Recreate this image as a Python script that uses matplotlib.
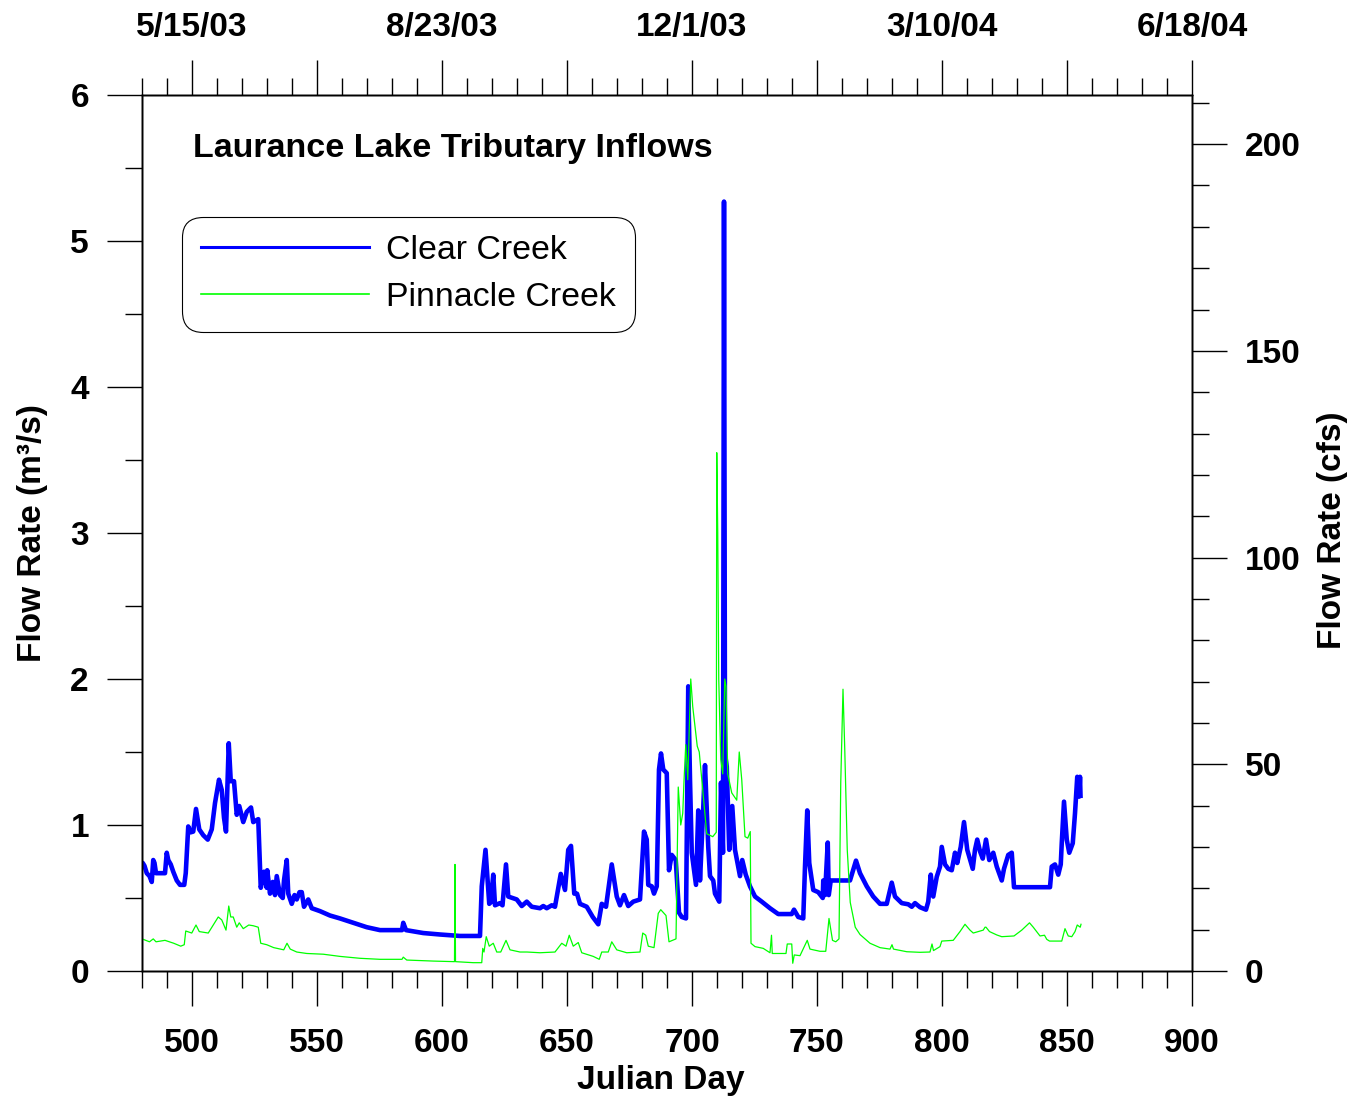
import matplotlib
matplotlib.use('Agg')
import matplotlib.pyplot as plt
from matplotlib.lines import Line2D
from matplotlib.ticker import MultipleLocator, FixedLocator
import numpy as np

plt.rcParams['font.family'] = ['Liberation Sans', 'DejaVu Sans']
plt.rcParams['font.weight'] = 'bold'

# ---------------- data ----------------
clear_day = [480.0, 480.3, 481.0, 481.9, 483.0, 483.9, 484.5, 485.0, 485.6, 487.0, 489.2, 489.9, 490.5,
             491.5, 492.5, 493.9, 495.2, 496.9, 497.5, 498.5, 499.5, 500.5, 501.6, 502.9, 504.5, 506.3,
             507.9, 509.2, 510.8, 511.9, 512.8, 513.6, 514.7, 515.5, 516.8, 517.9, 518.9, 520.5, 521.9,
             523.6, 524.5, 526.5, 527.5, 528.2, 528.8, 529.9, 530.1, 531.2, 532.3, 533.2, 533.9, 535.2,
             536.3, 536.8, 537.9, 538.5, 539.9, 541.0, 541.9, 543.0, 543.9, 544.8, 546.5, 547.9, 551.2,
             555.2, 559.2, 564.5, 569.9, 575.2, 580.5, 584.0, 584.5, 585.6, 592.5, 599.2, 607.2, 615.2,
             615.9, 617.4, 618.9, 619.5, 620.5, 621.2, 623.2, 624.2, 625.6, 626.5, 629.9, 631.9, 633.9,
             635.9, 639.2, 640.5, 641.9, 643.9, 645.2, 647.5, 649.2, 650.5, 651.6, 652.9, 654.0, 655.2,
             657.9, 660.3, 662.5, 663.9, 665.6, 667.9, 669.9, 671.2, 672.8, 674.5, 676.5, 679.2, 680.8,
             681.9, 682.5, 683.9, 684.8, 685.9, 686.8, 687.6, 688.5, 689.9, 690.8, 691.9, 693.5, 694.8,
             695.9, 697.6, 698.5, 699.2, 699.9, 701.6, 702.5, 703.2, 704.3, 705.2, 706.5, 707.2, 708.5,
             709.2, 710.9, 711.6, 712.4, 712.8, 713.2, 713.9, 714.9, 716.1, 717.2, 719.2, 720.1, 721.5,
             723.2, 725.2, 727.9, 730.5, 731.2, 734.5, 739.9, 740.8, 742.5, 744.5, 745.2, 746.1, 746.9,
             748.5, 750.5, 752.3, 752.5, 753.2, 754.3, 754.7, 755.5, 763.2, 765.6, 767.2, 769.9, 772.5,
             775.2, 777.9, 779.9, 781.2, 783.9, 786.5, 787.9, 789.2, 791.2, 793.6, 794.5, 795.5, 796.5,
             797.9, 799.2, 799.9, 801.2, 802.5, 803.9, 805.2, 806.1, 807.5, 808.8, 810.1, 812.3, 813.2,
             814.1, 815.2, 816.3, 817.6, 818.9, 820.5, 821.9, 823.9, 824.8, 826.5, 827.9, 828.8, 843.2,
             843.9, 845.2, 846.5, 847.5, 847.9, 848.8, 849.9, 850.9, 852.3, 853.2, 854.1, 854.9, 855.2,
             855.4]
clear_flow = [0.74, 0.74, 0.72, 0.67, 0.65, 0.61, 0.76, 0.74, 0.67, 0.67, 0.67, 0.81, 0.76,
              0.73, 0.68, 0.62, 0.59, 0.59, 0.67, 0.99, 0.95, 0.955, 1.11, 0.97, 0.93, 0.90,
              0.97, 1.15, 1.31, 1.24, 1.05, 0.955, 1.56, 1.30, 1.30, 1.07, 1.13, 1.02, 1.09,
              1.12, 1.02, 1.04, 0.57, 0.62, 0.68, 0.57, 0.69, 0.53, 0.61, 0.52, 0.65, 0.52,
              0.50, 0.62, 0.76, 0.53, 0.46, 0.52, 0.49, 0.54, 0.54, 0.44, 0.49, 0.43, 0.41,
              0.38, 0.36, 0.33, 0.30, 0.28, 0.28, 0.28, 0.33, 0.28, 0.26, 0.25, 0.24, 0.24,
              0.58, 0.83, 0.46, 0.47, 0.66, 0.45, 0.465, 0.45, 0.73, 0.51, 0.49, 0.445, 0.475,
              0.44, 0.43, 0.445, 0.43, 0.45, 0.44, 0.665, 0.555, 0.83, 0.857, 0.53, 0.53, 0.46,
              0.44, 0.37, 0.32, 0.46, 0.44, 0.73, 0.51, 0.45, 0.52, 0.445, 0.475, 0.49, 0.955,
              0.90, 0.59, 0.58, 0.53, 0.58, 1.38, 1.49, 1.38, 1.355, 0.69, 0.795, 0.76, 0.40,
              0.37, 0.36, 1.95, 1.31, 0.81, 0.59, 1.10, 0.62, 1.035, 1.41, 0.85, 0.65, 0.62,
              0.53, 0.475, 1.29, 0.81, 5.27, 1.49, 1.40, 0.83, 1.13, 0.83, 0.65, 0.76, 0.66,
              0.58, 0.51, 0.475, 0.44, 0.43, 0.39, 0.39, 0.42, 0.37, 0.36, 0.715, 1.10, 0.74,
              0.555, 0.54, 0.50, 0.62, 0.52, 0.88, 0.52, 0.62, 0.62, 0.756, 0.67, 0.58, 0.51,
              0.46, 0.46, 0.605, 0.51, 0.465, 0.457, 0.44, 0.465, 0.437, 0.42, 0.475, 0.66, 0.51,
              0.645, 0.715, 0.85, 0.73, 0.70, 0.69, 0.81, 0.74, 0.85, 1.02, 0.83, 0.70, 0.83,
              0.90, 0.82, 0.77, 0.90, 0.76, 0.81, 0.715, 0.62, 0.70, 0.795, 0.81, 0.574, 0.574,
              0.715, 0.73, 0.66, 0.73, 0.875, 1.16, 0.90, 0.81, 0.875, 1.08, 1.33, 1.195, 1.33,
              1.20]

pinn_day = [480.0, 481.5, 483.0, 484.5, 485.6, 489.2, 492.7, 495.5, 496.9, 497.5, 499.9, 501.6, 502.9,
            506.5, 508.5, 510.5, 511.9, 513.6, 514.7, 515.5, 516.5, 517.9, 518.9, 520.5, 522.7, 524.5,
            526.5, 527.5, 529.9, 532.7, 536.7, 538.0, 539.3, 541.9, 545.9, 552.5, 559.2, 567.2, 575.2,
            584.0, 584.5, 585.9, 596.5, 605.0, 605.2, 605.4, 612.5, 615.9, 616.3, 616.8, 617.7, 618.9,
            620.5, 621.9, 623.5, 625.6, 627.2, 631.2, 634.0, 639.2, 645.2, 647.9, 649.6, 650.9, 652.5,
            654.5, 655.9, 660.5, 662.9, 663.9, 666.5, 667.9, 669.9, 673.9, 679.2, 680.3, 681.5, 682.5,
            684.8, 686.5, 687.5, 689.6, 690.8, 693.6, 694.5, 695.5, 696.3, 696.8, 697.5, 698.3, 699.5,
            700.3, 700.9, 702.1, 702.9, 704.3, 705.9, 708.3, 709.7, 709.9, 710.3, 710.7, 711.5, 712.3,
            713.1, 713.6, 714.3, 715.9, 717.9, 718.9, 719.9, 721.2, 722.3, 723.3, 723.6, 725.2, 728.5,
            731.2, 731.8, 732.1, 737.6, 738.1, 739.9, 740.3, 740.9, 743.2, 746.1, 747.2, 751.2, 753.5,
            754.8, 756.2, 757.5, 758.8, 759.5, 760.4, 761.1, 762.1, 763.3, 765.3, 767.2, 771.2, 775.2,
            779.2, 780.0, 780.6, 785.9, 791.2, 795.2, 796.0, 796.6, 799.2, 799.9, 804.5, 807.2, 809.2,
            811.2, 812.5, 816.5, 817.2, 817.6, 819.0, 821.9, 823.9, 828.8, 831.9, 835.0, 836.5, 839.2,
            841.0, 841.9, 843.0, 847.9, 849.2, 850.5, 851.9, 853.2, 854.1, 855.3, 855.6]
pinn_flow = [0.22, 0.21, 0.20, 0.22, 0.20, 0.21, 0.19, 0.17, 0.18, 0.274, 0.26, 0.315, 0.27,
             0.26, 0.315, 0.37, 0.35, 0.28, 0.445, 0.37, 0.37, 0.30, 0.33, 0.29, 0.315, 0.31,
             0.30, 0.19, 0.18, 0.16, 0.145, 0.19, 0.15, 0.13, 0.12, 0.115, 0.10, 0.087, 0.08,
             0.08, 0.095, 0.075, 0.068, 0.064, 0.73, 0.064, 0.057, 0.057, 0.155, 0.13, 0.235, 0.17,
             0.19, 0.13, 0.13, 0.21, 0.145, 0.13, 0.13, 0.125, 0.13, 0.19, 0.17, 0.245, 0.17,
             0.195, 0.125, 0.10, 0.08, 0.13, 0.13, 0.20, 0.145, 0.125, 0.13, 0.26, 0.245, 0.17,
             0.16, 0.395, 0.42, 0.38, 0.20, 0.22, 1.26, 1.00, 1.08, 1.30, 1.55, 1.31, 2.00,
             1.81, 1.72, 1.54, 1.50, 1.24, 0.94, 0.92, 0.95, 3.55, 3.0, 2.0, 1.45, 1.35,
             2.0, 1.95, 1.35, 1.22, 1.17, 1.50, 1.31, 0.92, 0.91, 0.955, 0.19, 0.167, 0.155,
             0.125, 0.245, 0.12, 0.12, 0.185, 0.185, 0.053, 0.11, 0.105, 0.21, 0.15, 0.135, 0.135,
             0.36, 0.21, 0.20, 0.22, 1.29, 1.93, 1.52, 0.83, 0.47, 0.30, 0.25, 0.19, 0.16,
             0.15, 0.18, 0.15, 0.132, 0.128, 0.13, 0.185, 0.14, 0.167, 0.205, 0.21, 0.27, 0.32,
             0.28, 0.26, 0.28, 0.30, 0.30, 0.27, 0.247, 0.235, 0.24, 0.28, 0.33, 0.30, 0.24,
             0.245, 0.217, 0.205, 0.205, 0.29, 0.24, 0.235, 0.27, 0.315, 0.30, 0.32]

series_labels = ['Clear Creek', 'Pinnacle Creek']
bottom_ticks = [500, 550, 600, 650, 700, 750, 800, 850, 900]
top_tick_labels = ['5/15/03', '', '8/23/03', '', '12/1/03', '', '3/10/04', '', '6/18/04']
left_ticks = [0, 1, 2, 3, 4, 5, 6]
right_ticks = [0, 50, 100, 150, 200]
CFS_PER_CMS = 35.3147

# ---------------- figure ----------------
W, H = 1355, 1098
fig = plt.figure(figsize=(W / 100, H / 100), dpi=100)
L, R, B, T = 142, 1192, 971, 95
ax = fig.add_axes([L / W, 1 - B / H, (R - L) / W, (B - T) / H])

BLUE = '#0000ff'
GREEN = '#00ff00'
ax.plot(clear_day, clear_flow, color=BLUE, lw=3.3, zorder=2, solid_joinstyle='round')
ax.plot(pinn_day, pinn_flow, color=GREEN, lw=0.9, zorder=3)

ax.set_xlim(480, 900)
ax.set_ylim(0, 6)

MAJ_LEN, MIN_LEN, TW = 25.2, 12.2, 1.0
FS = 24

ax.xaxis.set_major_locator(FixedLocator(bottom_ticks))
ax.xaxis.set_minor_locator(MultipleLocator(10))
ax.yaxis.set_major_locator(FixedLocator(left_ticks))
ax.yaxis.set_minor_locator(MultipleLocator(0.5))
ax.tick_params(axis='x', which='major', direction='out', length=MAJ_LEN, width=TW, labelsize=FS, pad=16)
ax.tick_params(axis='y', which='major', direction='out', length=MAJ_LEN, width=TW, labelsize=FS, pad=13)
ax.tick_params(which='minor', direction='out', length=MIN_LEN, width=TW)
ax.tick_params(top=False, right=False, which='both')
ax.set_xticklabels([str(t) for t in bottom_ticks])
ax.set_yticklabels([str(t) for t in left_ticks])

for sp in ax.spines.values():
    sp.set_linewidth(1.0)

# right axis (cfs)
ax2 = ax.twinx()
ax2.set_ylim(0, 6 * CFS_PER_CMS)
ax2.yaxis.set_major_locator(FixedLocator(right_ticks))
ax2.yaxis.set_minor_locator(MultipleLocator(10))
ax2.tick_params(axis='y', which='major', direction='out', length=MAJ_LEN, width=TW, labelsize=FS, pad=13)
ax2.tick_params(axis='y', which='minor', direction='out', length=MIN_LEN, width=TW)
ax2.set_yticklabels([str(t) for t in right_ticks])

# top axis (dates)
ax3 = ax.twiny()
ax3.set_xlim(480, 900)
ax3.xaxis.set_major_locator(FixedLocator(bottom_ticks))
ax3.xaxis.set_minor_locator(MultipleLocator(10))
ax3.tick_params(axis='x', which='major', direction='out', length=MAJ_LEN, width=TW, labelsize=FS, pad=12)
ax3.tick_params(axis='x', which='minor', direction='out', length=MIN_LEN, width=TW)
ax3.set_xticklabels(top_tick_labels)

for a in (ax2, ax3):
    for sp in a.spines.values():
        sp.set_linewidth(1.0)

# labels
ax.set_xlabel('Julian Day', fontsize=FS, fontweight='bold')
ax.xaxis.set_label_coords((661 - L) / (R - L), (B - 1081) / (B - T))
ax.xaxis.label.set_va('center')

ax.set_ylabel('Flow Rate (m\u00b3/s)', fontsize=FS, fontweight='bold')
ax.yaxis.set_label_coords((33 - L) / (R - L), (B - 533) / (B - T))
ax.yaxis.label.set_va('center')

ax2.set_ylabel('Flow Rate (cfs)', fontsize=FS, fontweight='bold', rotation=90)
ax2.yaxis.set_label_coords((1332 - L) / (R - L), (B - 530) / (B - T))
ax2.yaxis.label.set_va('center')

ax.text((193 - L) / (R - L), (B - 149) / (B - T), 'Laurance Lake Tributary Inflows',
        transform=ax.transAxes, fontsize=24.5, fontweight='bold', ha='left', va='center')

handles = [Line2D([], [], color=BLUE, lw=2.2), Line2D([], [], color=GREEN, lw=1.2)]
leg = ax3.legend(handles, series_labels, loc='upper left',
                 bbox_to_anchor=((182.3 - L) / (R - L), (B - 216.7) / (B - T)),
                 bbox_transform=ax.transAxes,
                 prop={'family': 'Liberation Sans', 'weight': 'normal', 'size': 24.4},
                 handlelength=4.95, handletextpad=0.52, borderpad=0.55, labelspacing=0.46,
                 borderaxespad=0, frameon=True, fancybox=True, framealpha=1)
frame = leg.get_frame()
frame.set_edgecolor('black')
frame.set_linewidth(0.8)
frame.set_boxstyle('round', pad=0, rounding_size=0.6)

fig.savefig('out.png', dpi=100)
